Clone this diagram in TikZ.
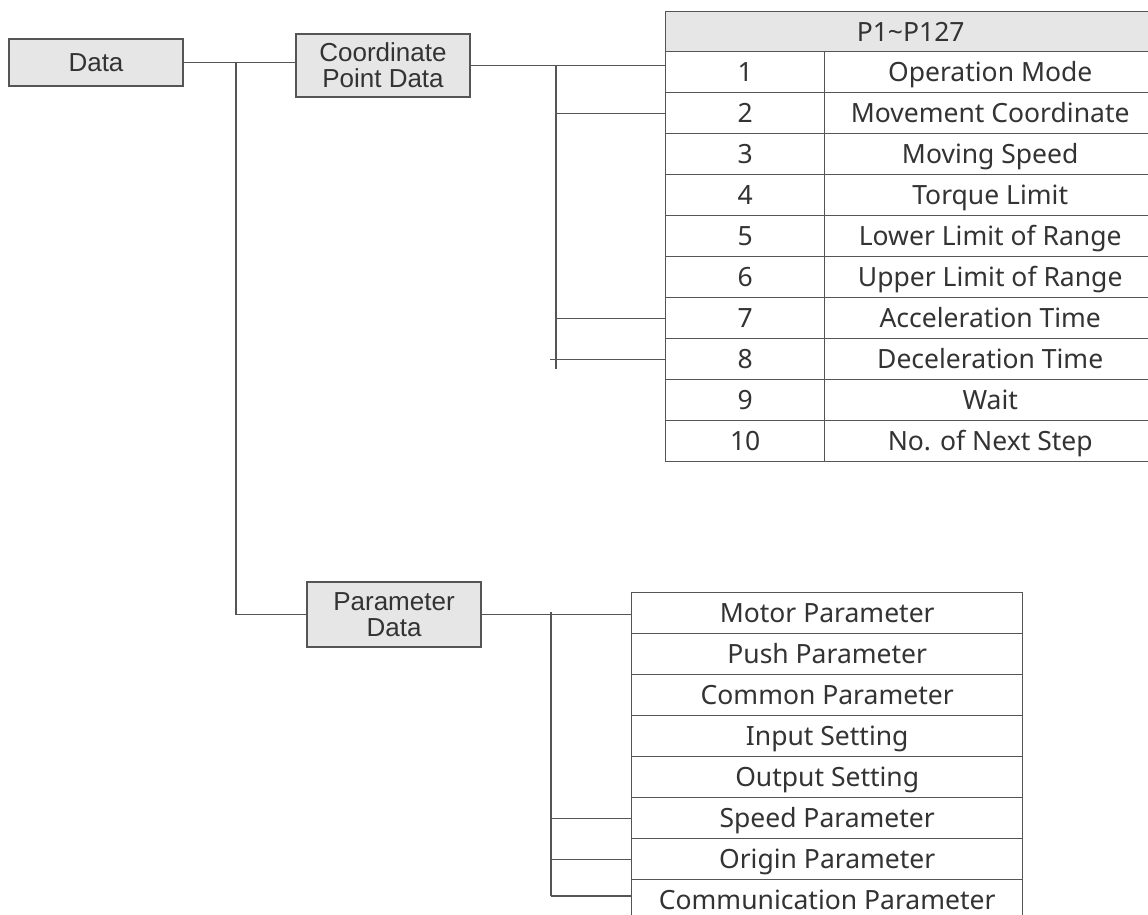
\documentclass[tikz,border=0pt]{standalone}
\usepackage{fontspec}
\setmainfont{Liberation Sans}
\newfontfamily\tabfont{Noto Sans}
\definecolor{linec}{HTML}{555555}
\definecolor{boxfill}{HTML}{E6E6E6}
\definecolor{txt}{HTML}{333333}
\begin{document}
\begin{tikzpicture}[x=1pt,y=-1pt,
  conn/.style={draw=linec,line width=1.4pt},
  databox/.style={draw=linec,line width=1.4pt,fill=boxfill,minimum width=174pt,inner sep=0pt,
    text=txt,align=center,font=\fontsize{26}{26}\selectfont},
  cell/.style={draw=linec,line width=1.4pt,inner sep=0pt,anchor=north west,minimum height=41pt,
    text height=19pt,text depth=0pt,
    text=txt,font=\tabfont\fontsize{26.5}{26.5}\selectfont},
  numcell/.style={cell,minimum width=159pt},
  namecell/.style={cell,minimum width=331pt},
  hdrcell/.style={cell,fill=boxfill,minimum width=490pt,minimum height=40pt},
  parcell/.style={cell,minimum width=391pt}]
\clip (0,0) rectangle (1148,914);
\fill[white] (0,0) rectangle (1148,914);
% main boxes
\node[databox,minimum height=47pt] (data) at (96,62.5) {Data};
\node[databox,minimum height=63pt] (cp) at (383,65.5) {Coordinate\\Point Data};
\node[databox,minimum height=65pt] (pd) at (394,614.5) {Parameter\\Data};
% coordinate table
\node[hdrcell] (hdr) at (665,11) {P1\textasciitilde P127};
\foreach \i/\t in {1/Operation Mode,2/Movement Coordinate,3/Moving Speed,4/Torque Limit,
  5/Lower Limit of Range,6/Upper Limit of Range,7/Acceleration Time,8/Deceleration Time,
  9/Wait,10/No. of Next Step}{
  \node[numcell] (n\i) at (665,{51+41*(\i-1)}) {\i};
  \node[namecell] (t\i) at (824,{51+41*(\i-1)}) {\t};
}
% parameter list
\foreach \i/\t in {1/Motor Parameter,2/Push Parameter,3/Common Parameter,4/Input Setting,
  5/Output Setting,6/Speed Parameter,7/Origin Parameter,8/Communication Parameter}{
  \node[parcell] (p\i) at (631,{592+41*(\i-1)}) {\t};
}
% connectors: Data tree
\coordinate (j1) at (236,62);
\draw[conn] (data.east) -- (data.east -| cp.west);
\draw[conn] (j1) |- (pd.west);
% coordinate point data to table
\coordinate (b1top) at (556,65);
\coordinate (b1bot) at (556,369);
\draw[conn] (cp.east) -- (cp.east -| n1.west);
\draw[conn] (b1top) -- (b1bot);
\draw[conn] (b1top |- n2.west) -- (n2.west);
\draw[conn] (b1top |- n7.west) -- (n7.west);
\draw[conn] ([xshift=-6pt]b1top |- n8.west) -- (n8.west);
% parameter data to list
\coordinate (b2top) at (551,612);
\coordinate (b2bot) at (551,896);
\draw[conn] (pd.east) -- (pd.east -| p1.west);
\draw[conn] (b2top) -- (b2bot);
\draw[conn] (b2top |- p6.west) -- (p6.west);
\draw[conn] (b2top |- p7.west) -- (p7.west);
\draw[conn] (b2bot) -- (b2bot -| p8.west);
\end{tikzpicture}
\end{document}
